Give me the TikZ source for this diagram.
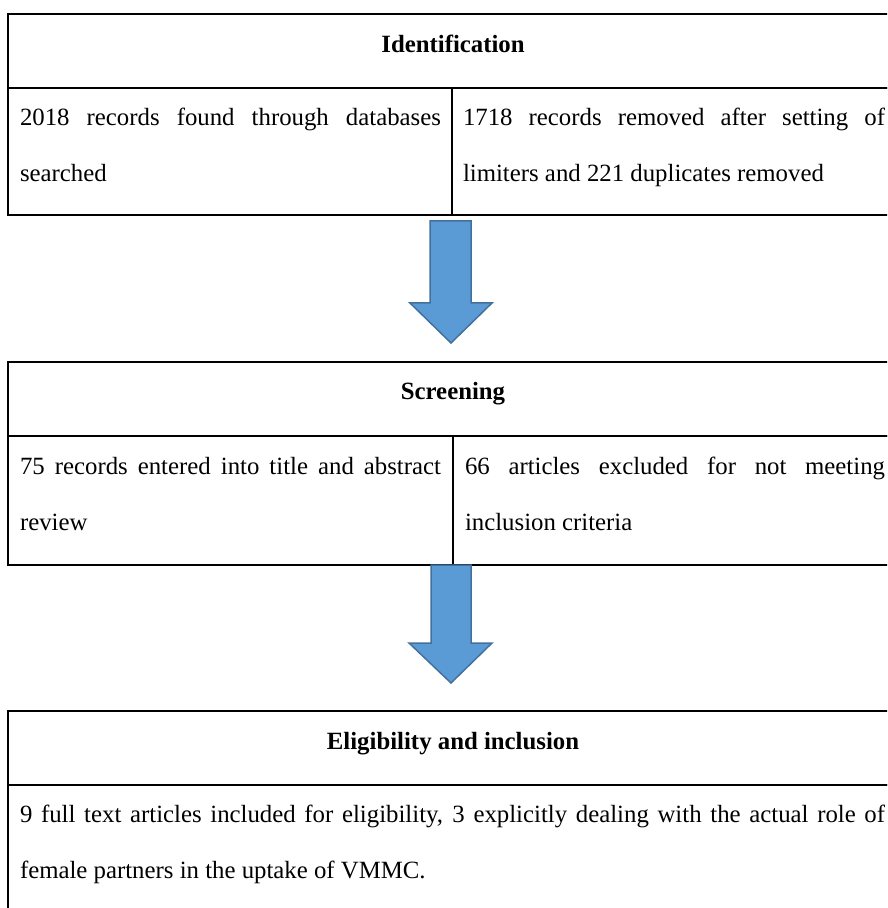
\documentclass[tikz,border=0pt]{standalone}
\usepackage{fontspec}
\setmainfont{Liberation Serif}
\definecolor{arrowfill}{HTML}{5B9BD5}
\definecolor{arrowedge}{HTML}{41719C}
\begin{document}
\begin{tikzpicture}[x=0.5pt,y=-0.5pt,
  every node/.style={font=\fontsize{12.4pt}{14pt}\selectfont, inner sep=0pt, outer sep=0pt},
  cell/.style={draw=black, line width=0.6pt, anchor=north west},
  headtext/.style={anchor=base, font=\fontsize{12.4pt}{14pt}\selectfont\bfseries},
  bodytext/.style={anchor=base west},
  bluearrow/.style={fill=arrowfill, draw=arrowedge, line width=0.75pt, line join=miter}]
\useasboundingbox (0,0) rectangle (887,908);
\clip (0,0) rectangle (887,908);
% ---- Table 1: Identification
\node[cell, minimum width=445pt, minimum height=37pt] (h1) at (8,14) {};
\node[cell, minimum width=222pt, minimum height=63.5pt] (l1) at (8,88) {};
\node[cell, minimum width=223pt, minimum height=63.5pt] (r1) at (452,88) {};
\node[headtext] (th1) at (453,53) {Identification};
\node[bodytext] (l1a) at (20,126) {\makebox[210.5pt][s]{2018 records found through databases}};
\node[bodytext] (l1b) at (20,182) {searched};
\node[bodytext] (r1a) at (463,126) {\makebox[211pt][s]{1718 records removed after setting of}};
\node[bodytext] (r1b) at (463,182) {limiters and 221 duplicates removed};
% ---- Arrow 1
\draw[bluearrow] (430,221) -- (471,221) -- (471,303) -- (492,303) -- (451,343) -- (410,303) -- (430,303) -- cycle;
% ---- Table 2: Screening
\node[cell, minimum width=445pt, minimum height=37pt] (h2) at (8,362) {};
\node[cell, minimum width=222.5pt, minimum height=64.5pt] (l2) at (8,436) {};
\node[cell, minimum width=222.5pt, minimum height=64.5pt] (r2) at (453,436) {};
\node[headtext] (th2) at (453,400) {Screening};
\node[bodytext] (l2a) at (20,474) {\makebox[210.5pt][s]{75 records entered into title and abstract}};
\node[bodytext] (l2b) at (20,530) {review};
\node[bodytext] (r2a) at (465,474) {\makebox[210pt][s]{66 articles excluded for not meeting}};
\node[bodytext] (r2b) at (465,530) {inclusion criteria};
% ---- Arrow 2
\draw[bluearrow] (431,565) -- (471,565) -- (471,643) -- (492,643) -- (451,683) -- (409,643) -- (431,643) -- cycle;
% ---- Table 3: Eligibility and inclusion
\node[cell, minimum width=445pt, minimum height=37pt] (h3) at (8,711) {};
\node[cell, minimum width=445pt, minimum height=120pt] (b3) at (8,785) {};
\node[headtext] (th3) at (453,749) {Eligibility and inclusion};
\node[bodytext] (b3a) at (20,822) {\makebox[432.5pt][s]{9 full text articles included for eligibility, 3 explicitly dealing with the actual role of}};
\node[bodytext] (b3b) at (20,878) {female partners in the uptake of VMMC.};
\end{tikzpicture}
\end{document}
